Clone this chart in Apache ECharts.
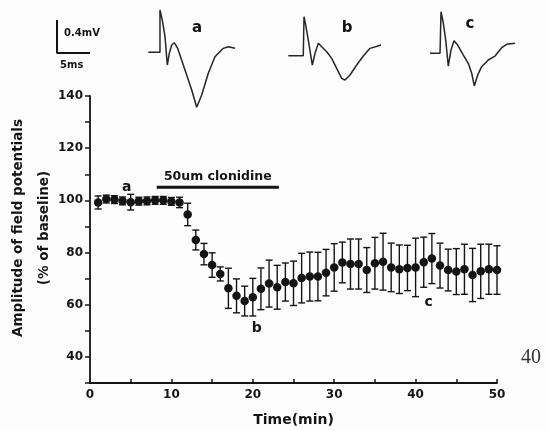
<!DOCTYPE html>
<html>
<head>
<meta charset="utf-8">
<script src="https://cdn.jsdelivr.net/npm/echarts@6/dist/echarts.min.js"></script>
<style>
html,body{margin:0;padding:0;background:#fdfdfd;}
#chart{width:548px;height:431px;}
</style>
</head>
<body>
<div id="chart"></div>
<script>
// ---- main time course data ----
const timeMin = [1,2,3,4,5,6,7,8,9,10,11,12,13,14,15,16,17,18,19,20,21,22,23,24,25,26,27,28,29,30,31,32,33,34,35,36,37,38,39,40,41,42,43,44,45,46,47,48,49,50];
const meanAmp = [99.2,100.5,100.3,99.8,99.3,99.7,99.8,100,100,99.6,99.2,94.6,84.8,79.4,75.2,71.8,66.3,63.4,61.4,62.9,66.1,68.1,66.7,68.7,68.2,70.2,70.8,70.8,72.3,74.3,76.2,75.6,75.6,73.3,75.9,76.5,74.3,73.6,74.1,74.3,76.3,77.7,75.0,73.3,72.7,73.6,71.4,72.8,73.6,73.3];
const semAmp  = [2.5,1.5,1.5,1.5,3,1.5,1.5,1.5,1.5,1.5,2,4.3,3.8,4.1,4.7,2.7,7.7,6.5,5.7,7.2,8.0,9.0,8.4,7.3,8.5,9.5,9.4,9.3,8.9,9.1,7.8,9.6,9.6,8.6,9.9,10.9,9.3,9.3,8.7,11.2,9.6,9.6,8.6,8.0,8.8,9.6,10.2,10.4,9.6,9.3];
const yTickLabels = [40,60,80,100,120,140];
const xTickLabels = [0,10,20,30,40,50];
const yTitle = ["Amplitude of field potentials","(% of baseline)"];
const xTitle = "Time(min)";
const drugBar = [[8.2,105],[23.2,105]];
const drugLabel = "50um clonidine";
const pointLabels = [["a",4.5,105],["b",20.5,51],["c",41.6,61]];

// ---- field potential traces (ms, mV) ----
const traceA = [[0,0],[1.77,0],[1.77,0.513],[2.12,0.39],[2.53,0.19],[2.88,-0.154],[3.18,-0.012],[3.55,0.088],[3.94,0.116],[4.45,0.048],[5.56,-0.215],[6.58,-0.457],[7.33,-0.667],[8.09,-0.518],[9.09,-0.255],[10.1,-0.053],[11.36,0.048],[12.12,0.068],[13.14,0.048]];
const traceB = [[0,0],[2.27,0],[2.38,0.473],[2.68,0.352],[3.03,0.19],[3.64,-0.113],[4.05,0.029],[4.55,0.15],[5.06,0.109],[5.82,0.048],[6.58,-0.032],[7.33,-0.153],[8.09,-0.274],[8.59,-0.295],[9.35,-0.234],[10.36,-0.113],[11.36,-0.004],[12.38,0.089],[14.05,0.13]];
const traceC = [[0,0],[1.52,0],[1.67,0.504],[2.02,0.364],[2.38,0.162],[2.77,-0.154],[3.18,0.04],[3.64,0.153],[4.2,0.1],[5.05,-0.021],[5.8,-0.121],[6.32,-0.242],[6.71,-0.396],[7.23,-0.262],[7.83,-0.162],[8.83,-0.081],[9.85,-0.033],[10.86,0.068],[11.62,0.109],[12.88,0.121]];
const scaleBar = [[0,0.4],[0,0],[5,0]];
const scaleLabels = ["0.4mV","5ms"];
const traceNames = ["a","b","c"];

const INK = '#141414';
const FONT = 'DejaVu Sans';

const errData = timeMin.map((t,i)=>[t, meanAmp[i]-semAmp[i], meanAmp[i]+semAmp[i]]);
const ptData = timeMin.map((t,i)=>[t, meanAmp[i]]);

// trace grids share one scale: 6.6 px per ms, 82.5 px per mV
const PX_MS = 6.6, PX_MV = 82.5, TMAX = 14.5, VMIN = -0.72, VMAX = 0.56;
function traceGrid(x0, y0){
  return {left:x0, top:y0 - VMAX*PX_MV, width:TMAX*PX_MS, height:(VMAX-VMIN)*PX_MV, outerBoundsMode:'none', containLabel:false};
}
const hiddenX = {type:'value', min:0, max:TMAX, show:false};
const hiddenY = {type:'value', min:VMIN, max:VMAX, show:false};

const chart = echarts.init(document.getElementById('chart'), null, {renderer:'canvas'});
const option = {
  backgroundColor:'#fdfdfd',
  animation:false,
  grid:[
    {left:90, right:51, top:96, bottom:48, outerBoundsMode:'none', containLabel:false},
    traceGrid(57,53),
    traceGrid(148.3,52.3),
    traceGrid(288.3,55.7),
    traceGrid(430,53.3)
  ],
  xAxis:[
    {type:'value', gridIndex:0, min:0, max:50, interval:5,
     name:xTitle, nameLocation:'middle', nameGap:30,
     nameTextStyle:{fontFamily:FONT, fontWeight:'bold', fontSize:14, color:INK},
     axisLine:{lineStyle:{color:INK, width:1.8}},
     axisTick:{inside:true, length:4, lineStyle:{color:INK, width:1.5}},
     axisLabel:{fontFamily:FONT, fontWeight:'bold', fontSize:12, color:INK, margin:6,
       formatter:v=> xTickLabels.includes(v) ? String(v) : ''},
     splitLine:{show:false}},
    Object.assign({gridIndex:1}, hiddenX),
    Object.assign({gridIndex:2}, hiddenX),
    Object.assign({gridIndex:3}, hiddenX),
    Object.assign({gridIndex:4}, hiddenX)
  ],
  yAxis:[
    {type:'value', gridIndex:0, min:30, max:140, interval:10,
     axisLine:{lineStyle:{color:INK, width:1.8}},
     axisTick:{length:5, lineStyle:{color:INK, width:1.5}},
     axisLabel:{fontFamily:FONT, fontWeight:'bold', fontSize:12, color:INK, margin:7,
       formatter:v=> yTickLabels.includes(v) ? String(v) : ''},
     splitLine:{show:false}},
    Object.assign({gridIndex:1}, hiddenY),
    Object.assign({gridIndex:2}, hiddenY),
    Object.assign({gridIndex:3}, hiddenY),
    Object.assign({gridIndex:4}, hiddenY)
  ],
  series:[
    {type:'custom', xAxisIndex:0, yAxisIndex:0, data:errData, z:2,
     renderItem:function(params, api){
       const x = api.value(0), lo = api.value(1), hi = api.value(2);
       const a = api.coord([x, lo]), b = api.coord([x, hi]);
       const w = 3.5;
       const st = {stroke:INK, lineWidth:1.4};
       return {type:'group', children:[
         {type:'line', shape:{x1:a[0],y1:a[1],x2:b[0],y2:b[1]}, style:st},
         {type:'line', shape:{x1:a[0]-w,y1:a[1],x2:a[0]+w,y2:a[1]}, style:st},
         {type:'line', shape:{x1:b[0]-w,y1:b[1],x2:b[0]+w,y2:b[1]}, style:st}
       ]};
     }},
    {type:'scatter', xAxisIndex:0, yAxisIndex:0, data:ptData, symbol:'circle', symbolSize:8.5, z:3,
     itemStyle:{color:INK, opacity:1}},
    {type:'line', xAxisIndex:0, yAxisIndex:0, data:drugBar, showSymbol:false, symbol:'none',
     lineStyle:{color:INK, width:3}, z:3,
     markPoint:{symbol:'circle', symbolSize:0,
       data:[{coord:[(drugBar[0][0]+drugBar[1][0])/2, drugBar[0][1]], value:drugLabel,
         label:{show:true, formatter:drugLabel, position:'top', distance:4, fontFamily:FONT, fontWeight:'bold', fontSize:12.5, color:INK}}]}},
    {type:'scatter', xAxisIndex:0, yAxisIndex:0, symbolSize:0, z:4,
     itemStyle:{opacity:1, color:INK},
     data:pointLabels.map(p=>({value:[p[1],p[2]], name:p[0]})),
     label:{show:true, position:'inside', formatter:'{b}', fontFamily:FONT, fontWeight:'bold', fontSize:14, color:INK, opacity:1}},
    {type:'line', xAxisIndex:1, yAxisIndex:1, data:scaleBar, symbol:'none', lineStyle:{color:INK, width:2}},
    {type:'line', xAxisIndex:2, yAxisIndex:2, data:traceA, symbol:'none', lineStyle:{color:'#262626', width:1.5}},
    {type:'line', xAxisIndex:3, yAxisIndex:3, data:traceB, symbol:'none', lineStyle:{color:'#262626', width:1.5}},
    {type:'line', xAxisIndex:4, yAxisIndex:4, data:traceC, symbol:'none', lineStyle:{color:'#262626', width:1.5}}
  ],
  graphic:[
    {type:'text', x:18, y:228, rotation:Math.PI/2, style:{text:yTitle[0], font:'bold 13.5px "DejaVu Sans"', fill:INK, textAlign:'center', textVerticalAlign:'middle'}},
    {type:'text', x:44, y:228, rotation:Math.PI/2, style:{text:yTitle[1], font:'bold 13.5px "DejaVu Sans"', fill:INK, textAlign:'center', textVerticalAlign:'middle'}},
    {type:'text', x:64, y:33, style:{text:scaleLabels[0], font:'bold 10px "DejaVu Sans"', fill:INK, textVerticalAlign:'middle'}},
    {type:'text', x:60, y:65, style:{text:scaleLabels[1], font:'bold 10px "DejaVu Sans"', fill:INK, textVerticalAlign:'middle'}},
    {type:'text', x:197, y:28, style:{text:traceNames[0], font:'bold 15px "DejaVu Sans"', fill:INK, textAlign:'center', textVerticalAlign:'middle'}},
    {type:'text', x:347, y:28, style:{text:traceNames[1], font:'bold 15px "DejaVu Sans"', fill:INK, textAlign:'center', textVerticalAlign:'middle'}},
    {type:'text', x:470, y:24, style:{text:traceNames[2], font:'bold 15px "DejaVu Sans"', fill:INK, textAlign:'center', textVerticalAlign:'middle'}},
    {type:'text', x:521, y:358, style:{text:'40', font:'20px "Liberation Serif"', fill:'#333', textVerticalAlign:'middle'}}
  ]
};
chart.setOption(option);
</script>
</body>
</html>
